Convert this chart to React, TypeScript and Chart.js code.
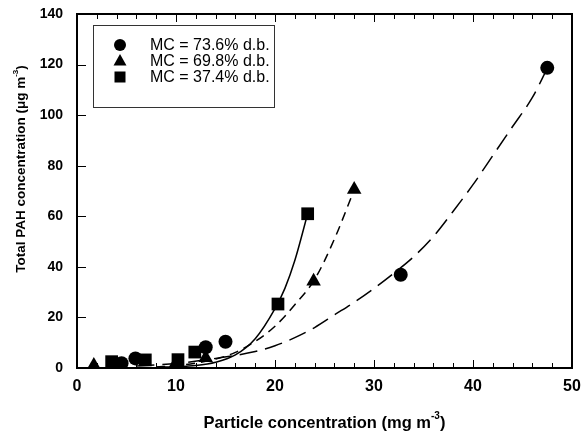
import { useEffect, useRef } from "react";
import { Chart, registerables } from "chart.js";

Chart.register(...registerables);

// ---- data ----
const xTickValues = [0, 10, 20, 30, 40, 50];
const yTickValues = [0, 20, 40, 60, 80, 100, 120, 140];

const legendLabels = ["MC = 73.6% d.b.", "MC = 69.8% d.b.", "MC = 37.4% d.b."];

// MC = 73.6% (circles)
const circleX = [4.5, 5.9, 13.0, 15.0, 32.7, 47.5];
const circleY = [1.9, 3.8, 8.2, 10.4, 36.9, 118.7];
// MC = 69.8% (triangles)
const triangleX = [1.7, 10.0, 13.0, 23.9, 28.0];
const triangleY = [1.0, 2.0, 4.0, 34.3, 70.6];
// MC = 37.4% (squares)
const squareX = [3.5, 6.9, 10.2, 11.9, 20.3, 23.3];
const squareY = [2.5, 3.2, 3.3, 6.3, 25.3, 61.0];

// fitted curves
const fitCircleX = [6, 10, 14, 18, 20, 22, 24, 26, 28, 30, 32, 34, 36, 38, 40, 42, 44, 46, 47.5];
const fitCircleY = [0.8, 1.8, 3.8, 6.5, 8.8, 12, 16, 21, 26, 31.5, 37.5, 44, 52, 62, 72.5, 84, 95.5, 107, 118.5];
const fitTriangleX = [8, 10, 12, 14, 16, 18, 20, 22, 24, 26, 28];
const fitTriangleY = [0.4, 0.9, 1.9, 3.5, 6.2, 10.5, 16.5, 25, 35, 51, 70.5];
const fitSquareX = [8, 10, 12, 14, 16, 18, 20, 21, 22, 23.3];
const fitSquareY = [0.3, 0.5, 1.0, 2.3, 5.2, 11.6, 23.5, 31.5, 42.5, 61];

const FONT = "'Liberation Sans', Arial, Helvetica, sans-serif";

const pts = (xs: number[], ys: number[]) => xs.map((x, i) => ({ x, y: ys[i] }));

function drawSupText(
  ctx: CanvasRenderingContext2D,
  base: string,
  sup: string,
  tail: string,
  cx: number,
  cy: number,
  size: number
) {
  const f = `bold ${size}px ${FONT}`;
  const fs = `bold ${Math.round(size * 0.6)}px ${FONT}`;
  ctx.font = f;
  const w1 = ctx.measureText(base).width;
  const w3 = ctx.measureText(tail).width;
  ctx.font = fs;
  const w2 = ctx.measureText(sup).width;
  const total = w1 + w2 + w3;
  let x = cx - total / 2;
  ctx.textBaseline = "middle";
  ctx.textAlign = "left";
  ctx.font = f;
  ctx.fillText(base, x, cy);
  x += w1;
  ctx.font = fs;
  ctx.fillText(sup, x, cy - size * 0.42);
  x += w2;
  ctx.font = f;
  ctx.fillText(tail, x, cy);
}

export default function App() {
  const ref = useRef<HTMLCanvasElement>(null);

  useEffect(() => {
    document.body.style.margin = "0";
    const canvas = ref.current;
    if (!canvas) return;

    const decorPlugin = {
      id: "decor",
      afterDraw(chart: any) {
        const { ctx, chartArea: a, scales } = chart;
        const xs = scales.x;
        const ys = scales.y;
        ctx.save();
        ctx.strokeStyle = "#000";
        ctx.fillStyle = "#000";

        // frame
        ctx.lineWidth = 2;
        ctx.strokeRect(a.left, a.top, a.right - a.left, a.bottom - a.top);

        // x ticks (inward), bottom and top
        ctx.lineWidth = 1;
        ctx.beginPath();
        for (let v = 2; v < 50; v += 2) {
          const px = Math.round(xs.getPixelForValue(v)) + 0.5;
          const len = v % 10 === 0 ? 8 : 5;
          ctx.moveTo(px, a.bottom);
          ctx.lineTo(px, a.bottom - len);
          ctx.moveTo(px, a.top);
          ctx.lineTo(px, a.top + len);
        }
        // y ticks (inward) on left
        for (let v = 20; v < 140; v += 20) {
          const py = Math.round(ys.getPixelForValue(v)) + 0.5;
          ctx.moveTo(a.left, py);
          ctx.lineTo(a.left + 9, py);
        }
        ctx.stroke();

        // axis titles
        drawSupText(ctx, "Particle concentration (mg m", "-3", ")", (a.left + a.right) / 2, 423, 16.5);
        ctx.save();
        ctx.translate(21, 169);
        ctx.rotate(-Math.PI / 2);
        drawSupText(ctx, "Total PAH concentration (\u03bcg m", "-3", ")", 0, 0, 13.5);
        ctx.restore();

        // legend
        const bx = 93.5, by = 25.5, bw = 181, bh = 82;
        ctx.fillStyle = "#fff";
        ctx.fillRect(bx, by, bw, bh);
        ctx.strokeStyle = "#333";
        ctx.lineWidth = 1;
        ctx.strokeRect(bx, by, bw, bh);
        ctx.fillStyle = "#000";
        const rowY = [45, 61, 77];
        const mx = 120;
        ctx.beginPath();
        ctx.arc(mx, rowY[0], 6, 0, Math.PI * 2);
        ctx.fill();
        ctx.beginPath();
        ctx.moveTo(mx, rowY[1] - 7);
        ctx.lineTo(mx + 6.5, rowY[1] + 4.5);
        ctx.lineTo(mx - 6.5, rowY[1] + 4.5);
        ctx.closePath();
        ctx.fill();
        ctx.fillRect(mx - 5.5, rowY[2] - 5.5, 11, 11);
        ctx.font = `16px ${FONT}`;
        ctx.textAlign = "left";
        ctx.textBaseline = "middle";
        legendLabels.forEach((t, i) => ctx.fillText(t, 150, rowY[i] + 1));

        ctx.restore();
      },
    };

    const chart = new Chart(canvas, {
      type: "scatter",
      data: {
        datasets: [
          {
            type: "line",
            data: pts(fitSquareX, fitSquareY),
            borderColor: "#000",
            borderWidth: 1.5,
            pointRadius: 0,
            cubicInterpolationMode: "monotone",
            fill: false,
          } as any,
          {
            type: "line",
            data: pts(fitTriangleX, fitTriangleY),
            borderColor: "#000",
            borderWidth: 1.5,
            borderDash: [9, 6],
            pointRadius: 0,
            cubicInterpolationMode: "monotone",
            fill: false,
          } as any,
          {
            type: "line",
            data: pts(fitCircleX, fitCircleY),
            borderColor: "#000",
            borderWidth: 1.5,
            borderDash: [18, 8],
            pointRadius: 0,
            cubicInterpolationMode: "monotone",
            fill: false,
          } as any,
          {
            data: pts(circleX, circleY),
            pointStyle: "circle",
            pointRadius: 7,
            backgroundColor: "#000",
            borderColor: "#000",
            borderWidth: 0,
          },
          {
            data: pts(triangleX, triangleY),
            pointStyle: "triangle",
            pointRadius: 8.4,
            backgroundColor: "#000",
            borderColor: "#000",
            borderWidth: 0,
          },
          {
            data: pts(squareX, squareY),
            pointStyle: "rect",
            pointRadius: 9,
            backgroundColor: "#000",
            borderColor: "#000",
            borderWidth: 0,
          },
        ],
      },
      options: {
        responsive: false,
        animation: false,
        devicePixelRatio: 1,
        layout: { padding: { top: 14, right: 10, left: 0, bottom: 0 } },
        plugins: {
          legend: { display: false },
          tooltip: { enabled: false },
          title: { display: false },
        },
        scales: {
          x: {
            type: "linear",
            min: 0,
            max: 50,
            afterBuildTicks: (s: any) => {
              s.ticks = xTickValues.map((v) => ({ value: v }));
            },
            afterFit: (s: any) => {
              s.height = 69;
              s.paddingLeft = 0;
              s.paddingRight = 0;
              s.paddingTop = 0;
              s.paddingBottom = 0;
            },
            ticks: {
              color: "#000",
              font: { family: FONT, size: 16, weight: "bold" },
              padding: 9,
              maxRotation: 0,
            },
            grid: { display: false, drawTicks: false },
            border: { display: false },
          },
          y: {
            type: "linear",
            min: 0,
            max: 140,
            afterBuildTicks: (s: any) => {
              s.ticks = yTickValues.map((v) => ({ value: v }));
            },
            afterFit: (s: any) => {
              s.width = 77;
              s.paddingLeft = 0;
              s.paddingRight = 0;
              s.paddingTop = 0;
              s.paddingBottom = 0;
            },
            ticks: {
              color: "#000",
              font: { family: FONT, size: 14, weight: "bold" },
              padding: 14,
            },
            grid: { display: false, drawTicks: false },
            border: { display: false },
          },
        },
      },
      plugins: [decorPlugin],
    });

    return () => chart.destroy();
  }, []);

  return (
    <div style={{ width: 582, height: 437, background: "#fff" }}>
      <canvas ref={ref} width={582} height={437} style={{ display: "block" }} />
    </div>
  );
}
